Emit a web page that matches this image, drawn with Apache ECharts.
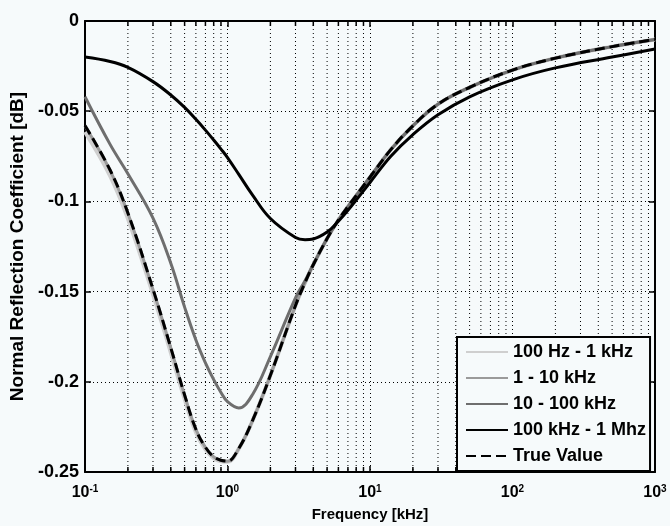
<!DOCTYPE html>
<html><head><meta charset="utf-8">
<script src="https://cdn.jsdelivr.net/npm/echarts@6/dist/echarts.min.js"></script>
<style>html,body{margin:0;padding:0;background:#f6fafb}#c{width:670px;height:526px}</style>
</head><body><div id="c"></div>
<script>
// Frequencies (kHz) shared by all series
const freq = [0.1,0.15,0.2,0.3,0.4,0.5,0.6,0.7,0.8,0.9,1,1.2,1.5,2,3,3.5,4,5,6,7,10,14,20,30,50,100,200,500,1000];
const band100Hz1kHz = [-0.0615,-0.0858,-0.1095,-0.1515,-0.1838,-0.2095,-0.2280,-0.2375,-0.2423,-0.2440,-0.2443,-0.2371,-0.2215,-0.1964,-0.1577,-0.1450,-0.1351,-0.1206,-0.1103,-0.1029,-0.0866,-0.0713,-0.0581,-0.0461,-0.0368,-0.0272,-0.0206,-0.0142,-0.0102];
const band1to10kHz = [-0.0582,-0.0828,-0.1066,-0.1488,-0.1812,-0.2074,-0.2264,-0.2364,-0.2416,-0.2436,-0.2441,-0.2370,-0.2214,-0.1964,-0.1577,-0.1450,-0.1351,-0.1206,-0.1103,-0.1029,-0.0866,-0.0713,-0.0581,-0.0461,-0.0368,-0.0272,-0.0206,-0.0142,-0.0102];
const band10to100kHz = [-0.0420,-0.0684,-0.0847,-0.1093,-0.1343,-0.1586,-0.1768,-0.1895,-0.1988,-0.2059,-0.2110,-0.2145,-0.2070,-0.1860,-0.1535,-0.1440,-0.1350,-0.1206,-0.1103,-0.1029,-0.0866,-0.0713,-0.0581,-0.0461,-0.0368,-0.0272,-0.0206,-0.0142,-0.0102];
const band100kHz1MHz = [-0.0200,-0.02245,-0.0257,-0.0336,-0.0410,-0.0479,-0.0545,-0.0605,-0.0660,-0.0710,-0.0757,-0.0850,-0.0965,-0.1095,-0.1200,-0.1212,-0.1208,-0.1170,-0.1110,-0.1050,-0.0895,-0.0750,-0.0630,-0.0520,-0.0420,-0.0326,-0.0260,-0.0200,-0.0155];
const trueValue = [-0.0580,-0.0826,-0.1064,-0.1486,-0.1811,-0.2073,-0.2263,-0.2363,-0.2415,-0.2435,-0.2440,-0.2369,-0.2214,-0.1964,-0.1577,-0.1450,-0.1351,-0.1206,-0.1103,-0.1029,-0.0866,-0.0713,-0.0581,-0.0461,-0.0368,-0.0272,-0.0206,-0.0142,-0.0102];
const seriesNames = ['100 Hz - 1 kHz','1 - 10 kHz','10 - 100 kHz','100 kHz - 1 Mhz','True Value'];
const minorTicks = [0.2,0.3,0.4,0.5,0.6,0.7,0.8,0.9,2,3,4,5,6,7,8,9,20,30,40,50,60,70,80,90,200,300,400,500,600,700,800,900];
const xTickExponents = {'0.1':'-1','1':'0','10':'1','100':'2','1000':'3'};
const yMin = -0.25, yMax = 0;

const FF = '"Liberation Sans", Arial, Helvetica, sans-serif';
const pairs = arr => freq.map((f,i)=>[f, arr[i]]);
const chart = echarts.init(document.getElementById('c'), null, {renderer:'canvas'});

const axisCommon = {
  axisLine:{show:true, onZero:false, lineStyle:{color:'#000', width:2}},
  axisTick:{show:true, inside:true, length:6, lineStyle:{color:'#000', width:1.5}},
};
function lineSeries(name, data, color, width, dash, z){
  return {
    name, type:'line', data:pairs(data), xAxisIndex:0, yAxisIndex:0,
    symbol:'none', showSymbol:false, smooth:0.4, z,
    color, itemStyle:{color},
    lineStyle:{color, width, type: dash || 'solid'},
    emphasis:{disabled:true}, silent:true
  };
}
chart.setOption({
  animation:false,
  backgroundColor:'#f6fafb',
  grid:{left:85, right:15, top:21, bottom:54, outerBoundsMode:'none', containLabel:false},
  xAxis:[{
    type:'log', logBase:10, min:0.1, max:1000, splitNumber:4, position:'bottom',
    ...axisCommon,
    axisLabel:{
      margin:12,
      formatter: v => '{b|10}{s|' + (xTickExponents[String(+v.toPrecision(6))] || '') + '}',
      rich:{
        b:{fontSize:16, fontWeight:'bold', fontFamily:FF, color:'#000', lineHeight:18},
        s:{fontSize:10, fontWeight:'bold', fontFamily:FF, color:'#000', verticalAlign:'top', lineHeight:10}
      }
    },
    splitLine:{show:true, lineStyle:{color:'#000', width:1, type:[1,3]}},
    minorTick:{show:false}, minorSplitLine:{show:false},
    name:'Frequency [kHz]', nameLocation:'middle', nameGap:35,
    nameTextStyle:{fontSize:15, fontWeight:'bold', fontFamily:FF, color:'#000'}
  },{
    type:'log', logBase:10, min:0.1, max:1000, splitNumber:4, position:'top',
    ...axisCommon, axisLabel:{show:false}, splitLine:{show:false}
  }],
  yAxis:[{
    type:'value', min:yMin, max:yMax, interval:0.05, position:'left',
    ...axisCommon,
    axisLabel:{margin:6, fontSize:18, fontWeight:'bold', fontFamily:FF, color:'#000'},
    splitLine:{show:true, lineStyle:{color:'#000', width:1, type:[1,3]}},
    name:'Normal Reflection Coefficient [dB]', nameLocation:'middle', nameGap:58, nameRotate:90,
    nameTextStyle:{fontSize:19, fontWeight:'bold', fontFamily:FF, color:'#000'}
  },{
    type:'value', min:yMin, max:yMax, interval:0.05, position:'right',
    ...axisCommon, axisLabel:{show:false}, splitLine:{show:false}
  }],
  legend:{
    orient:'vertical', left:457, top:337,
    backgroundColor:'#f6fafb', borderColor:'#000', borderWidth:2, borderRadius:0,
    padding:[6,4,6,8], itemGap:8, itemWidth:42, itemHeight:14,
    itemStyle:{opacity:0},
    textStyle:{fontSize:18, fontWeight:'bold', color:'#000', fontFamily:FF},
    data:seriesNames, selectedMode:false
  },
  series:[
    {
      type:'custom', name:'minor', silent:true, z:1, xAxisIndex:0, yAxisIndex:0,
      data:minorTicks.map(v=>[v, yMin]),
      renderItem:(params, api)=>{
        const v = api.value(0);
        const t = api.coord([v, yMax]);
        const b = api.coord([v, yMin]);
        return {type:'group', children:[
          {type:'line', shape:{x1:t[0],y1:t[1],x2:b[0],y2:b[1]}, style:{stroke:'#000', lineWidth:1, lineDash:[1,3]}},
          {type:'line', shape:{x1:b[0],y1:b[1],x2:b[0],y2:b[1]-5}, style:{stroke:'#000', lineWidth:1.5}},
          {type:'line', shape:{x1:t[0],y1:t[1],x2:t[0],y2:t[1]+5}, style:{stroke:'#000', lineWidth:1.5}}
        ]};
      }
    },
    lineSeries(seriesNames[0], band100Hz1kHz, '#cfcfcf', 4, null, 2),
    lineSeries(seriesNames[1], band1to10kHz, '#9a9a9a', 3, null, 3),
    lineSeries(seriesNames[2], band10to100kHz, '#6e6e6e', 3, null, 4),
    lineSeries(seriesNames[3], band100kHz1MHz, '#000000', 3, null, 5),
    lineSeries(seriesNames[4], trueValue, '#000000', 3, [10,5], 6)
  ]
});
</script></body></html>
